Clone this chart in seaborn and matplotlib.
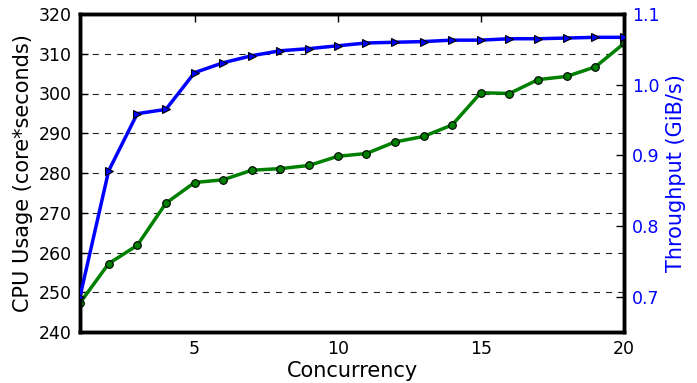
import matplotlib
matplotlib.use("Agg")
import matplotlib.pyplot as plt
import seaborn as sns
import pandas as pd

concurrency = list(range(1, 21))
cpu_usage = [247.3, 257.2, 261.8, 272.4, 277.6, 278.3, 280.7, 281.1, 281.9, 284.2,
             284.9, 287.8, 289.2, 292.1, 300.2, 300.0, 303.5, 304.3, 306.7, 312.6]
throughput = [0.700, 0.878, 0.959, 0.965, 1.017, 1.031, 1.041, 1.048, 1.051, 1.055,
              1.059, 1.060, 1.061, 1.063, 1.063, 1.065, 1.065, 1.066, 1.067, 1.067]

df = pd.DataFrame({"Concurrency": concurrency, "CPU": cpu_usage, "Throughput": throughput})

sns.set_style("white")
plt.rcParams['font.family'] = ['DejaVu Sans']
plt.rcParams.update({
    "text.color": "black",
    "axes.labelcolor": "black",
    "xtick.color": "black",
    "ytick.color": "black",
})

fig = plt.figure(figsize=(6.97, 3.83), dpi=100)
ax = fig.add_axes([80/697, 51/383, 544/697, 318/383])
ax2 = ax.twinx()

sns.lineplot(data=df, x="Concurrency", y="CPU", ax=ax, color="green", linewidth=2.5,
             marker="o", markersize=5.5, markeredgecolor="black", markeredgewidth=0.8, zorder=3)
sns.lineplot(data=df, x="Concurrency", y="Throughput", ax=ax2, color="blue", linewidth=2.5,
             marker=">", markersize=6, markeredgecolor="black", markeredgewidth=0.8, zorder=3)

ax.set_xlim(1, 20)
ax.set_ylim(240, 320)
ax2.set_ylim(0.65, 1.1)
ax.set_xticks([5, 10, 15, 20])
ax.set_yticks(range(240, 321, 10))
ax2.set_yticks([0.7, 0.8, 0.9, 1.0, 1.1])

ax.yaxis.grid(True, linestyle=(0, (5.5, 5.5)), color="#222222", linewidth=0.8)
ax.set_axisbelow(True)

ax.set_xlabel("Concurrency", fontsize=15, labelpad=2, color="black")
ax.set_ylabel("CPU Usage (core*seconds)", fontsize=15, color="black")
ax2.set_ylabel("Throughput (GiB/s)", fontsize=15, color="blue")

ax.tick_params(axis="both", direction="in", length=6, width=1, labelsize=12.5, top=True, pad=6,
               colors="black")
ax.tick_params(axis="y", right=False)
ax2.tick_params(axis="y", direction="in", length=6, width=1, labelsize=12.5, colors="black",
                labelcolor="blue", pad=6)

for a in (ax, ax2):
    for s in a.spines.values():
        s.set_linewidth(2.5)
        s.set_color("black")
        s.set_visible(True)

fig.savefig("out.png", dpi=100)
